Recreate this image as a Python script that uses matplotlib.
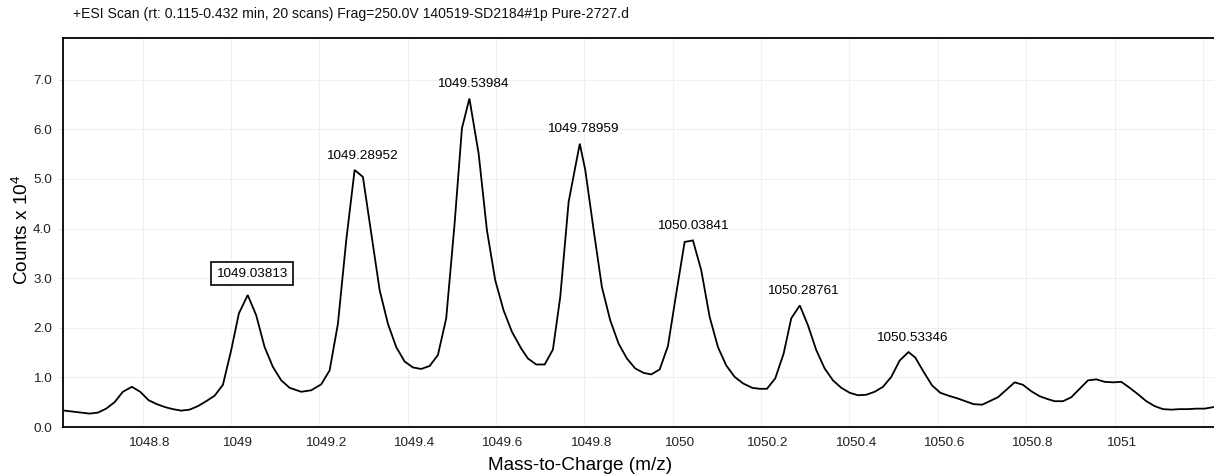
import matplotlib
matplotlib.use('Agg')
import matplotlib.pyplot as plt
import matplotlib.transforms as mtransforms

plt.rcParams['font.family'] = ['Liberation Sans', 'DejaVu Sans']
plt.rcParams['mathtext.fontset'] = 'custom'
plt.rcParams['mathtext.rm'] = 'Liberation Sans'
plt.rcParams['mathtext.default'] = 'regular'

# spectrum profile (m/z, counts x 10^4)
mz = [1048.6236, 1048.6802, 1048.6990, 1048.7177, 1048.7368, 1048.7555, 1048.7759, 1048.7947,
      1048.8137, 1048.8325, 1048.8513, 1048.8687, 1048.8875, 1048.9065, 1048.9253, 1048.9441,
      1048.9631, 1048.9819, 1049.0007, 1049.0181, 1049.0381, 1049.0573, 1049.0763, 1049.0951,
      1049.1139, 1049.1329, 1049.1591, 1049.1818, 1049.2044, 1049.2234, 1049.2422, 1049.2610,
      1049.2800, 1049.2988, 1049.3176, 1049.3366, 1049.3554, 1049.3742, 1049.3932, 1049.4120,
      1049.4307, 1049.4498, 1049.4685, 1049.4873, 1049.5063, 1049.5229, 1049.5398, 1049.5607,
      1049.5794, 1049.5982, 1049.6172, 1049.6360, 1049.6571, 1049.6723, 1049.6910, 1049.7101,
      1049.7288, 1049.7454, 1049.7644, 1049.7896, 1049.8020, 1049.8210, 1049.8397, 1049.8585,
      1049.8775, 1049.8963, 1049.9151, 1049.9341, 1049.9513, 1049.9704, 1049.9891, 1050.0079,
      1050.0269, 1050.0457, 1050.0645, 1050.0835, 1050.1023, 1050.1211, 1050.1401, 1050.1589,
      1050.1799, 1050.1967, 1050.2132, 1050.2320, 1050.2510, 1050.2682, 1050.2876, 1050.3060,
      1050.3248, 1050.3438, 1050.3626, 1050.3814, 1050.4004, 1050.4192, 1050.4380, 1050.4570,
      1050.4758, 1050.4946, 1050.5136, 1050.5335, 1050.5489, 1050.5679, 1050.5867, 1050.6055,
      1050.6245, 1050.6433, 1050.6621, 1050.6811, 1050.7006, 1050.7173, 1050.7361, 1050.7549,
      1050.7739, 1050.7927, 1050.8115, 1050.8305, 1050.8493, 1050.8644, 1050.8832, 1050.9020,
      1050.9210, 1050.9398, 1050.9586, 1050.9776, 1050.9964, 1051.0152, 1051.0342, 1051.0530,
      1051.0718, 1051.0908, 1051.1096, 1051.1284, 1051.1474, 1051.1661, 1051.1849, 1051.2040,
      1051.2227]
counts = [0.33, 0.27, 0.29, 0.37, 0.50, 0.71, 0.81, 0.71,
          0.54, 0.46, 0.40, 0.36, 0.33, 0.35, 0.42, 0.52,
          0.63, 0.85, 1.55, 2.29, 2.66, 2.25, 1.61, 1.21,
          0.94, 0.79, 0.71, 0.74, 0.86, 1.14, 2.08, 3.76,
          5.18, 5.04, 3.90, 2.76, 2.08, 1.61, 1.32, 1.20,
          1.17, 1.23, 1.45, 2.19, 4.10, 6.02, 6.62, 5.51,
          3.97, 2.96, 2.35, 1.92, 1.58, 1.38, 1.26, 1.26,
          1.56, 2.62, 4.54, 5.71, 5.18, 3.97, 2.82, 2.15,
          1.68, 1.38, 1.18, 1.09, 1.06, 1.16, 1.63, 2.69,
          3.73, 3.76, 3.16, 2.22, 1.61, 1.24, 1.01, 0.88,
          0.79, 0.77, 0.77, 0.98, 1.48, 2.19, 2.45, 2.05,
          1.55, 1.18, 0.94, 0.79, 0.69, 0.64, 0.65, 0.71,
          0.81, 1.01, 1.34, 1.51, 1.40, 1.11, 0.84, 0.69,
          0.63, 0.58, 0.52, 0.46, 0.45, 0.52, 0.60, 0.75,
          0.90, 0.85, 0.72, 0.62, 0.56, 0.52, 0.52, 0.60,
          0.77, 0.94, 0.96, 0.91, 0.90, 0.91, 0.79, 0.66,
          0.52, 0.42, 0.36, 0.35, 0.36, 0.36, 0.37, 0.37,
          0.40]

# labelled peaks
peak_mz = [1049.03813, 1049.28952, 1049.53984, 1049.78959, 1050.03841, 1050.28761, 1050.53346]
peak_counts = [2.66, 5.18, 6.62, 5.71, 3.76, 2.45, 1.51]
peak_labels = ['1049.03813', '1049.28952', '1049.53984', '1049.78959',
               '1050.03841', '1050.28761', '1050.53346']

x_ticks = [1048.8, 1049.0, 1049.2, 1049.4, 1049.6, 1049.8, 1050.0, 1050.2, 1050.4,
           1050.6, 1050.8, 1051.0, 1051.2]
x_tick_labels = ['1048.8', '1049', '1049.2', '1049.4', '1049.6', '1049.8', '1050',
                 '1050.2', '1050.4', '1050.6', '1050.8', '1051', '']
y_ticks = [0, 1, 2, 3, 4, 5, 6, 7]

fig = plt.figure(figsize=(12.14, 4.76), dpi=100)
ax = fig.add_axes([63 / 1214, 49 / 476, 1 - 63 / 1214, 389 / 476])

ax.plot(mz, counts, color='black', lw=1.3, solid_joinstyle='miter')

ax.set_xlim(1048.620, 1051.225)
ax.set_ylim(0, 7.84)

ax.set_xticks(x_ticks)
ax.set_xticklabels(x_tick_labels, fontsize=9.7, color='#222222')
ax.set_yticks(y_ticks)
ax.set_yticklabels(['%.1f' % v for v in y_ticks], fontsize=9.7, color='#222222')
ax.tick_params(axis='x', length=0, pad=7)
ax.tick_params(axis='y', length=3, color='#dddddd', pad=5)
# tick labels sit slightly right of gridlines in the original
offset = mtransforms.ScaledTranslation(6 / 100, 0, fig.dpi_scale_trans)
for lbl in ax.get_xticklabels():
    lbl.set_transform(lbl.get_transform() + offset)

ax.grid(True, color='#f0f0f0', lw=0.8)
ax.set_axisbelow(True)

for side in ['left', 'bottom', 'top']:
    ax.spines[side].set_linewidth(1.3)
    ax.spines[side].set_color('black')
ax.spines['right'].set_visible(False)

ax.set_xlabel('Mass-to-Charge (m/z)', fontsize=13.7, va='center')
ax.xaxis.set_label_coords(0.449, -0.100)
ax.set_ylabel('Counts x 10$^4$', fontsize=13.7, va='center', ha='center')
ax.yaxis.set_label_coords(-0.0356, 0.506)

for i in range(len(peak_mz)):
    if i == 0:
        ax.annotate(peak_labels[i], (peak_mz[i], peak_counts[i]), xytext=(3, 11),
                    textcoords='offset points', ha='center', va='bottom', fontsize=9.7,
                    bbox=dict(boxstyle='square,pad=0.42', fc='white', ec='black', lw=1.2))
    else:
        ax.annotate(peak_labels[i], (peak_mz[i], peak_counts[i]), xytext=(2.2, 6),
                    textcoords='offset points', ha='center', va='bottom', fontsize=9.7)

fig.text(73 / 1214, 1 - 14 / 476,
         '+ESI Scan (rt: 0.115-0.432 min, 20 scans) Frag=250.0V 140519-SD2184#1p Pure-2727.d',
         ha='left', va='center', fontsize=10.1, color='#111111')

fig.savefig('out.png', dpi=100)
